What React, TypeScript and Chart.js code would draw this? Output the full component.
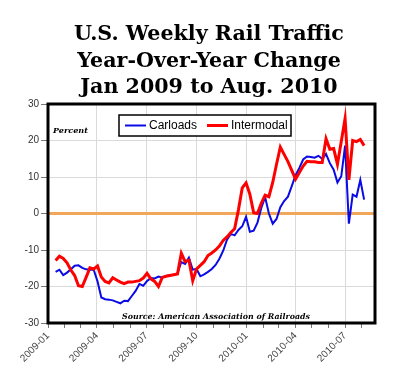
import React, { useEffect, useRef } from 'react';
import { Chart, registerables } from 'chart.js';

Chart.register(...registerables);

const TITLE_LINES = ['U.S. Weekly Rail Traffic', 'Year-Over-Year Change', 'Jan 2009 to Aug. 2010'];
const SOURCE_TEXT = 'Source: American Association of Railroads';
const UNIT_TEXT = 'Percent';
const SERIES_NAMES = ['Carloads', 'Intermodal'];

const AXIS_START = '2009-01-01';
const AXIS_END = '2010-08-25';
const FIRST_WEEK = '2009-01-15';

const MONTH_TICKS = [
  '2009-01', '2009-02', '2009-03', '2009-04', '2009-05', '2009-06', '2009-07', '2009-08',
  '2009-09', '2009-10', '2009-11', '2009-12', '2010-01', '2010-02', '2010-03', '2010-04',
  '2010-05', '2010-06', '2010-07', '2010-08',
];
const QUARTER_LABELS = ['2009-01', '2009-04', '2009-07', '2009-10', '2010-01', '2010-04', '2010-07'];

const Y_MIN = -30;
const Y_MAX = 30;
const Y_STEP = 10;

const carloads = [
  -16.0, -15.4, -16.9, -16.2, -15.3, -14.3, -14.2, -14.9, -15.3, -15.4,
  -15.4, -18.6, -23.0, -23.5, -23.6, -23.8, -24.2, -24.6, -23.9, -24.0,
  -22.6, -21.2, -19.3, -19.8, -18.5, -17.7, -17.8, -17.3, -17.6, -17.1,
  -16.9, -16.8, -16.4, -13.3, -13.8, -12.1, -15.4, -15.2, -17.2, -16.7,
  -16.0, -15.2, -14.1, -12.4, -10.2, -7.2, -5.6, -6.0, -4.5, -3.5,
  -0.9, -5.0, -4.7, -2.5, 1.5, 4.5, 0.0, -2.8, -1.5, 1.7,
  3.4, 4.6, 7.5, 10.5, 12.5, 14.8, 15.6, 15.5, 15.3, 15.8,
  15.0, 16.3, 13.8, 12.0, 8.5, 10.2, 18.6, -2.8, 5.2, 4.6,
  9.2, 3.8,
];

const intermodal = [
  -12.9, -11.7, -12.3, -13.5, -15.5, -17.0, -19.8, -20.0, -17.5, -14.9,
  -15.2, -14.4, -17.4, -18.6, -19.0, -17.6, -18.2, -18.8, -19.2, -18.8,
  -18.8, -18.6, -18.4, -17.7, -16.4, -17.9, -18.6, -20.0, -17.5, -17.2,
  -17.0, -16.8, -16.6, -10.9, -13.2, -12.8, -18.4, -15.2, -14.2, -13.2,
  -11.5, -10.8, -10.0, -8.9, -7.4, -6.4, -5.2, -4.2, 1.0, 7.0,
  8.4, 5.3, 0.2, 0.0, 2.8, 5.0, 4.6, 8.5, 13.5, 18.2,
  16.2, 14.2, 11.8, 9.4, 11.2, 13.0, 14.3, 14.2, 14.2, 14.0,
  14.0, 20.5, 17.6, 17.8, 13.5, 19.7, 26.0, 9.2, 20.0, 19.7,
  20.3, 18.6,
];

const DAY_MS = 86400000;
const dayOf = (iso: string) =>
  (Date.parse(iso + 'T00:00:00Z') - Date.parse(AXIS_START + 'T00:00:00Z')) / DAY_MS;

const weekDays = carloads.map((_, i) => dayOf(FIRST_WEEK) + 7 * i);
const toPoints = (vals: number[]) => vals.map((v, i) => ({ x: weekDays[i], y: v }));

const COLORS = { carloads: '#0a0ae6', intermodal: '#ff0000', zero: '#f2a65a' };

function fitFont(ctx: CanvasRenderingContext2D, text: string, style: string, family: string, targetW: number) {
  ctx.font = `${style} 20px ${family}`;
  const w = ctx.measureText(text).width;
  const size = (20 * targetW) / w;
  return `${style} ${size.toFixed(2)}px ${family}`;
}

const decorPlugin = {
  id: 'decor',
  afterDatasetsDraw(chart: any) {
    const { ctx, chartArea } = chart;
    ctx.save();
    ctx.strokeStyle = '#000';
    ctx.lineWidth = 3;
    ctx.strokeRect(chartArea.left, chartArea.top, chartArea.right - chartArea.left, chartArea.bottom - chartArea.top);
    ctx.restore();
  },
  afterDraw(chart: any) {
    const { ctx, chartArea } = chart;
    ctx.save();
    // Title
    ctx.fillStyle = '#000';
    ctx.textAlign = 'center';
    ctx.textBaseline = 'alphabetic';
    const titleFont = fitFont(ctx, TITLE_LINES[0], 'bold', '"DejaVu Serif"', 270);
    ctx.font = titleFont;
    const baselines = [40, 66.5, 92.5];
    TITLE_LINES.forEach((line, i) => ctx.fillText(line, 209, baselines[i]));

    // Unit label
    ctx.textAlign = 'left';
    ctx.font = fitFont(ctx, UNIT_TEXT, 'italic bold', '"DejaVu Serif"', 35);
    ctx.fillText(UNIT_TEXT, chartArea.left + 5, 132.5);

    // Source
    ctx.font = fitFont(ctx, SOURCE_TEXT, 'italic bold', '"DejaVu Serif"', 188);
    ctx.fillText(SOURCE_TEXT, 122, 318.5);

    // Legend
    const bx = 119, by = 115, bw = 172, bh = 21;
    ctx.fillStyle = '#fff';
    ctx.fillRect(bx, by, bw, bh);
    ctx.strokeStyle = '#000';
    ctx.lineWidth = 1.5;
    ctx.strokeRect(bx, by, bw, bh);
    const ds = chart.data.datasets;
    const cy = by + bh / 2;
    const entries = [
      { x: bx + 6, ds: ds[0] },
      { x: bx + 88, ds: ds[1] },
    ];
    ctx.font = '12px "Liberation Sans"';
    ctx.textBaseline = 'middle';
    entries.forEach((e) => {
      ctx.strokeStyle = e.ds.borderColor;
      ctx.lineWidth = e.ds.borderWidth;
      ctx.beginPath();
      ctx.moveTo(e.x, cy);
      ctx.lineTo(e.x + 21, cy);
      ctx.stroke();
      ctx.fillStyle = '#000';
      ctx.fillText(e.ds.label, e.x + 24, cy + 0.5);
    });
    ctx.restore();
  },
};

export default function App() {
  const ref = useRef<HTMLCanvasElement>(null);

  useEffect(() => {
    if (!ref.current) return;
    const monthDays = MONTH_TICKS.map((m) => dayOf(m + '-01'));
    const chart = new Chart(ref.current, {
      type: 'line',
      data: {
        datasets: [
          {
            label: SERIES_NAMES[0],
            data: toPoints(carloads),
            borderColor: COLORS.carloads,
            borderWidth: 2,
            pointRadius: 0,
            tension: 0,
            order: 2,
          },
          {
            label: SERIES_NAMES[1],
            data: toPoints(intermodal),
            borderColor: COLORS.intermodal,
            borderWidth: 3,
            pointRadius: 0,
            tension: 0,
            order: 1,
          },
          {
            label: 'zero',
            data: [
              { x: dayOf(AXIS_START), y: 0 },
              { x: dayOf(AXIS_END), y: 0 },
            ],
            borderColor: COLORS.zero,
            borderWidth: 3,
            pointRadius: 0,
            order: 3,
          },
        ],
      },
      options: {
        responsive: false,
        animation: false,
        events: [],
        layout: { padding: { top: 104, right: 25, left: 0, bottom: 0 } },
        plugins: {
          legend: { display: false },
          title: { display: false },
          tooltip: { enabled: false },
        },
        scales: {
          x: {
            type: 'linear',
            min: dayOf(AXIS_START),
            max: dayOf(AXIS_END),
            afterBuildTicks: (scale: any) => {
              scale.ticks = monthDays.map((v) => ({ value: v }));
            },
            afterFit: (scale: any) => {
              scale.height = 62;
            },
            border: { display: false },
            grid: {
              color: (c: any) => (QUARTER_LABELS.includes(MONTH_TICKS[c.index]) ? '#dadada' : 'rgba(0,0,0,0)'),
              tickColor: '#777',
              tickLength: 5,
              lineWidth: 1,
            },
            ticks: {
              autoSkip: false,
              maxRotation: 45,
              minRotation: 45,
              padding: 2,
              color: '#444',
              font: { family: '"Liberation Sans"', size: 10 },
              callback: (_v: any, i: number) => (QUARTER_LABELS.includes(MONTH_TICKS[i]) ? MONTH_TICKS[i] : ''),
            },
          },
          y: {
            min: Y_MIN,
            max: Y_MAX,
            afterFit: (scale: any) => {
              scale.width = 48;
            },
            border: { display: false },
            grid: {
              color: '#dadada',
              tickColor: '#777',
              tickLength: 7,
            },
            ticks: {
              stepSize: Y_STEP,
              padding: 2,
              color: '#333',
              font: { family: '"Liberation Sans"', size: 10 },
            },
          },
        },
      },
      plugins: [decorPlugin],
    });
    return () => chart.destroy();
  }, []);

  return (
    <div style={{ position: 'fixed', left: 0, top: 0, width: 400, height: 385, background: '#fff' }}>
      <canvas ref={ref} width={400} height={385} />
    </div>
  );
}
